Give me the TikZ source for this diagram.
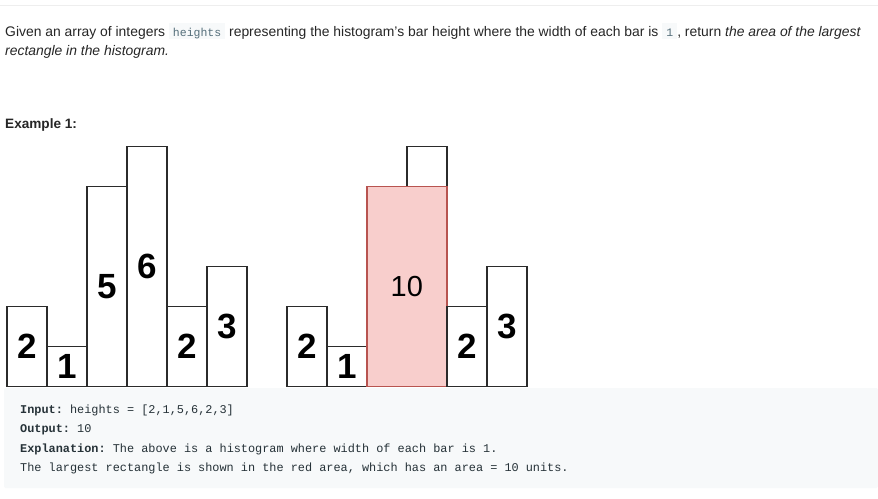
\documentclass[tikz,border=0pt]{standalone}
\usepackage{fontspec}
\setmainfont{Liberation Sans}
\setmonofont{Liberation Mono}
\definecolor{textcol}{HTML}{262626}
\definecolor{codebg}{HTML}{F7F9FA}
\definecolor{codetext}{HTML}{263238}
\definecolor{inlinecol}{HTML}{546E7A}
\definecolor{rulecol}{HTML}{EEEEEE}
\definecolor{barline}{HTML}{2B2B2B}
\definecolor{redfill}{HTML}{F8CECC}
\definecolor{redline}{HTML}{B85450}
\newcommand\inlinecode[1]{{\setlength\fboxsep{0pt}\colorbox{codebg}{\rule[-2.5pt]{0pt}{16pt}\hspace{4pt}{\fontsize{11.5}{13}\ttfamily\color{inlinecol}#1}\hspace{4pt}}}}
\begin{document}
\begin{tikzpicture}[x=1pt, y=-1pt,
    bar/.style={draw=barline, line width=1.5pt, fill=white, inner sep=0pt,
      minimum width=40pt, anchor=south west, font=\fontsize{35}{35}\bfseries},
    redbar/.style={bar, draw=redline, fill=redfill, font=\fontsize{29}{29}\selectfont},
    bodytext/.style={anchor=base west, inner sep=0pt, text=textcol, font=\fontsize{13.9}{16}\selectfont},
    codeline/.style={anchor=base west, inner sep=0pt, text=codetext, font=\fontsize{11.87}{14}\ttfamily}]
\useasboundingbox (0,0) rectangle (878,498);
\fill[white] (0,0) rectangle (878,498);
\draw[rulecol, line width=1pt] (0,5) -- (878,5);

% problem statement
\node[bodytext] (line1) at (5,36.7) {Given an array of integers \inlinecode{heights} representing the histogram's bar height where the width of each bar is \inlinecode{1}, return \textit{the area of the largest}};
\node[bodytext] (line2) at (5,55.7) {\textit{rectangle in the histogram.}};
\node[bodytext, font=\fontsize{13.6}{16}\bfseries] (example) at (5,128) {Example 1:};

% code block
\fill[codebg, rounded corners=2pt] (4,388) rectangle (878,488);

% left histogram
\foreach \h [count=\i] in {2,1,5,6,2,3} {
    \node[bar, minimum height=40*\h] (lbar\i) at (6+40*\i-40, 387) {\h};
}

% right histogram
\foreach \h [count=\i] in {2,1} {
    \node[bar, minimum height=40*\h] (rbar\i) at (246+40*\i, 387) {\h};
}
\node[bar, minimum height=40] (rtop) at (406, 187) {};
\node[redbar, minimum width=80, minimum height=200] (area) at (366, 387) {10};
\foreach \h [count=\i from 5] in {2,3} {
    \node[bar, minimum height=40*\h] (rbar\i) at (246+40*\i, 387) {\h};
}

% example text
\node[codeline] (input) at (20,413) {\textbf{Input:} heights = [2,1,5,6,2,3]};
\node[codeline] (output) at (20,432.5) {\textbf{Output:} 10};
\node[codeline] (expl) at (20,452) {\textbf{Explanation:} The above is a histogram where width of each bar is 1.};
\node[codeline] (units) at (20,471.5) {The largest rectangle is shown in the red area, which has an area = 10 units.};
\end{tikzpicture}
\end{document}
